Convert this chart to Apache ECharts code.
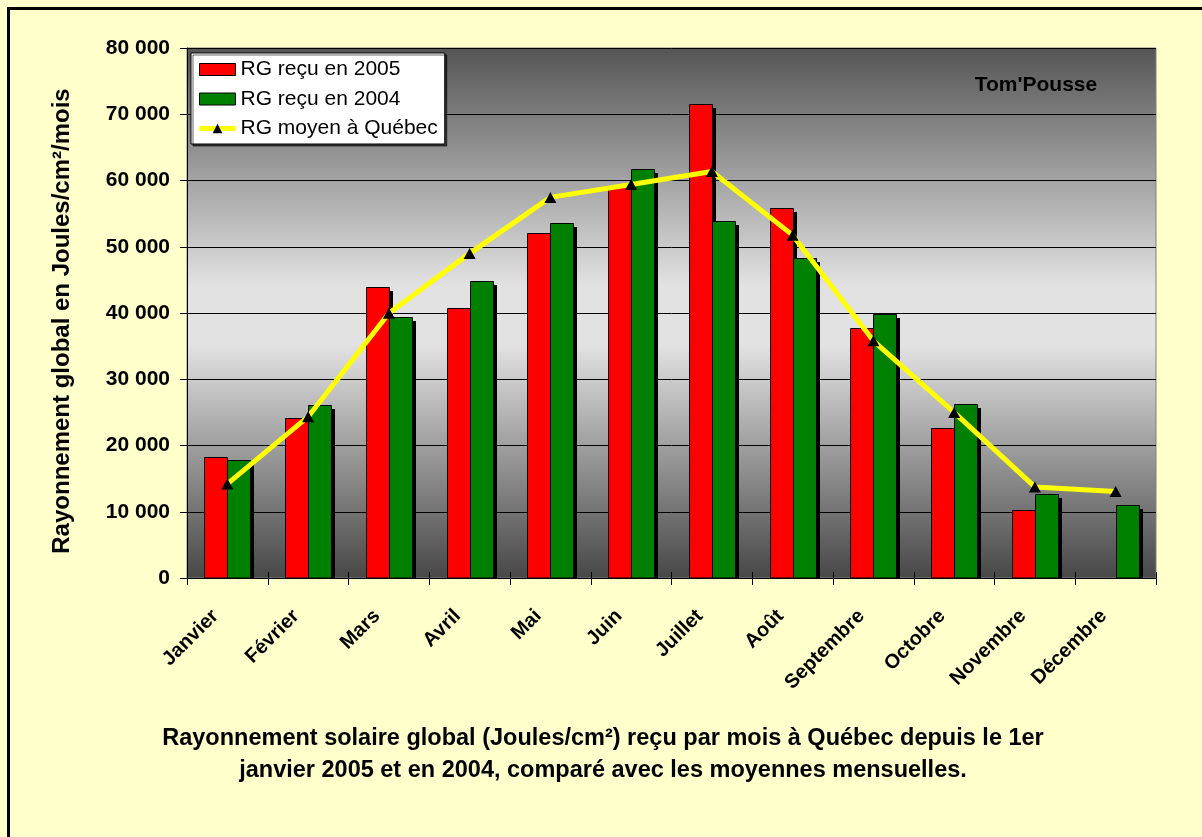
<!DOCTYPE html>
<html>
<head>
<meta charset="utf-8">
<script src="https://cdn.jsdelivr.net/npm/echarts@6/dist/echarts.min.js"></script>
<style>
html,body{margin:0;padding:0;background:#FFFFCC;}
#chart{width:1202px;height:837px;}
</style>
</head>
<body>
<div id="chart"></div>
<script>
const months = ['Janvier','Février','Mars','Avril','Mai','Juin','Juillet','Août','Septembre','Octobre','Novembre','Décembre'];
const rg2005 = [18300, 24200, 44000, 40700, 52100, 59100, 71500, 55800, 37800, 22700, 10250, null];
const rg2004 = [17800, 26100, 39350, 44900, 53650, 61800, 53950, 48350, 39800, 26250, 12650, 11000];
const rgMoyen = [14200, 24350, 39950, 49000, 57450, 59400, 61350, 51750, 35800, 25000, 13750, 13050];
const yTicks = {min: 0, max: 80000, interval: 10000};
const seriesNames = ['RG reçu en 2005', 'RG reçu en 2004', 'RG moyen à Québec'];
const titleText = 'Rayonnement solaire global (Joules/cm²) reçu par mois à Québec depuis le 1er\njanvier 2005 et en 2004, comparé avec les moyennes mensuelles.';
const yAxisTitle = 'Rayonnement global en Joules/cm²/mois';
const stampText = "Tom'Pousse";

const FONT = '"Liberation Sans", Arial, sans-serif';
const chart = echarts.init(document.getElementById('chart'), null, {renderer: 'canvas'});

const BAR_W = 23, SHADOW = 4;
function barSeries(name, values, color, slot) {
  return {
    name: name,
    type: 'custom',
    data: values.map((v, i) => [i, v == null ? '-' : v]),
    encode: {x: 0, y: 1},
    itemStyle: {color: color, borderColor: '#000', borderWidth: 1},
    renderItem: function (params, api) {
      const v = api.value(1);
      if (v == null || isNaN(v)) return null;
      const idx = api.value(0);
      const top = api.coord([idx, v]);
      const base = api.coord([idx, 0]);
      const x = Math.round(top[0]) - BAR_W + slot * BAR_W;
      const y = Math.round(top[1]);
      const b = Math.round(base[1]);
      return {
        type: 'group',
        children: [
          {type: 'rect', shape: {x: x + SHADOW, y: y + SHADOW, width: BAR_W, height: Math.max(0, b - y - SHADOW)},
           style: {fill: '#000'}},
          {type: 'rect', shape: {x: x + 0.5, y: y + 0.5, width: BAR_W, height: b - y - 0.5},
           style: {fill: color, stroke: '#000', lineWidth: 1}}
        ]
      };
    }
  };
}

chart.setOption({
  backgroundColor: '#FFFFCC',
  animation: false,
  textStyle: {fontFamily: FONT},
  graphic: [
    {type: 'rect', z: 100, silent: true, shape: {x: 8.5, y: 8.5, width: 1400, height: 1200},
     style: {fill: 'none', stroke: '#000', lineWidth: 3}},
    {type: 'text', z: 100, x: 62, y: 321, rotation: Math.PI / 2,
     style: {text: yAxisTitle, font: 'bold 24px ' + FONT, fill: '#000', align: 'center', verticalAlign: 'middle'}},
    {type: 'text', z: 100, x: 1036, y: 85,
     style: {text: stampText, font: 'bold 21px ' + FONT, fill: '#000', align: 'center', verticalAlign: 'middle'}},
    {type: 'text', z: 100, x: 603, y: 723,
     style: {text: titleText, font: 'bold 23.5px ' + FONT, fill: '#000', align: 'center', verticalAlign: 'top', lineHeight: 32}}
  ],
  legend: {
    orient: 'vertical',
    left: 191, top: 53,
    padding: [6, 7, 5, 6],
    itemWidth: 36, itemHeight: 12, itemGap: 8.5,
    backgroundColor: '#fff', borderColor: '#000', borderWidth: 1,
    shadowColor: 'rgba(0,0,0,0.6)', shadowBlur: 0, shadowOffsetX: 2, shadowOffsetY: 2,
    textStyle: {fontFamily: FONT, fontSize: 21, color: '#000'},
    data: [
      {name: seriesNames[0], icon: 'rect', itemStyle: {color: '#FF0000', borderColor: '#000', borderWidth: 1}},
      {name: seriesNames[1], icon: 'rect', itemStyle: {color: '#008000', borderColor: '#000', borderWidth: 1}},
      {name: seriesNames[2], lineStyle: {color: '#FFFF00', width: 5}, itemStyle: {color: '#000'}}
    ]
  },
  grid: {
    left: 187, top: 48, right: 46, bottom: 259,
    show: true,
    borderColor: '#808080', borderWidth: 1,
    backgroundColor: new echarts.graphic.LinearGradient(0, 0, 0, 1, [
      {offset: 0, color: '#555555'},
      {offset: 0.45, color: '#e2e2e2'},
      {offset: 0.56, color: '#e2e2e2'},
      {offset: 1, color: '#474747'}
    ])
  },
  xAxis: [{
    type: 'category',
    data: months,
    boundaryGap: true,
    axisLine: {lineStyle: {color: '#000', width: 1}},
    axisTick: {show: true, length: 7, lineStyle: {color: '#000'}},
    axisLabel: {
      rotate: 45, interval: 0, margin: 23,
      fontFamily: FONT, fontWeight: 'bold', fontSize: 20, color: '#000',
      padding: [0, 17, 0, 0]
    }
  }, {
    type: 'category',
    data: months,
    position: 'bottom',
    offset: 0,
    boundaryGap: true,
    axisLine: {show: false},
    axisTick: {show: true, inside: true, length: 6, lineStyle: {color: '#000'}},
    axisLabel: {show: false}
  }],
  yAxis: {
    type: 'value',
    min: yTicks.min, max: yTicks.max, interval: yTicks.interval,
    axisLine: {show: true, lineStyle: {color: '#000'}},
    axisTick: {show: true, length: 7, lineStyle: {color: '#000'}},
    splitLine: {lineStyle: {color: '#000', width: 1}},
    axisLabel: {
      margin: 17,
      fontFamily: FONT, fontWeight: 'bold', fontSize: 21, color: '#000',
      formatter: v => String(v).replace(/\B(?=(\d{3})+(?!\d))/g, ' ')
    }
  },
  series: [
    barSeries(seriesNames[0], rg2005, '#FF0000', 0),
    barSeries(seriesNames[1], rg2004, '#008000', 1),
    {
      name: seriesNames[2], type: 'line', data: rgMoyen,
      z: 5,
      symbol: 'triangle', symbolSize: [12, 11],
      lineStyle: {color: '#FFFF00', width: 5},
      itemStyle: {color: '#000', borderWidth: 0},
      emphasis: {disabled: true}
    }
  ]
});
</script>
</body>
</html>
